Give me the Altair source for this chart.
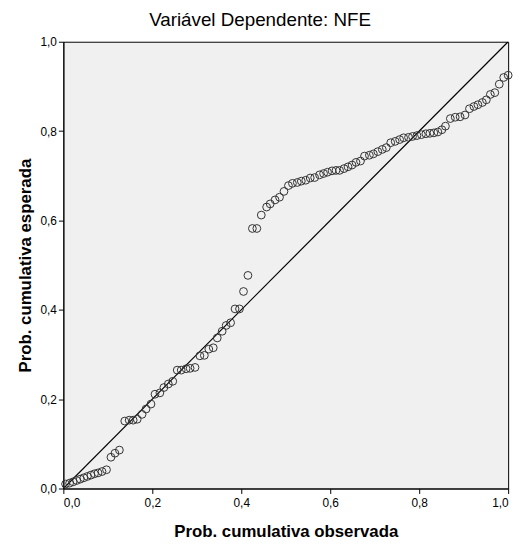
import altair as alt
import pandas as pd

# Observed cumulative probability (x) and expected cumulative probability (y)
observed = [0.005, 0.014, 0.022, 0.030, 0.038, 0.046, 0.054, 0.062, 0.070, 0.078, 0.087, 0.097,
            0.107, 0.116, 0.126,
            0.138, 0.148, 0.157, 0.166, 0.177, 0.186, 0.197, 0.206, 0.217, 0.226, 0.236, 0.246,
            0.256, 0.265, 0.276, 0.285, 0.296, 0.307, 0.317, 0.327, 0.337, 0.346, 0.357, 0.366,
            0.376, 0.386, 0.396, 0.405, 0.415, 0.425, 0.435, 0.445, 0.457, 0.465, 0.476, 0.486,
            0.496, 0.506, 0.515, 0.526, 0.535, 0.545, 0.555, 0.565, 0.576, 0.585, 0.594, 0.604,
            0.613, 0.621, 0.631, 0.640, 0.649, 0.658, 0.668, 0.677, 0.688, 0.697, 0.707, 0.717,
            0.726, 0.736, 0.746, 0.756, 0.765, 0.776, 0.785, 0.795, 0.805, 0.815, 0.824, 0.833,
            0.842, 0.851, 0.859, 0.870, 0.881, 0.892, 0.903, 0.913, 0.923, 0.932, 0.942, 0.951,
            0.960, 0.970, 0.980, 0.990, 1.000]
expected = [0.010, 0.012, 0.015, 0.018, 0.021, 0.024, 0.027, 0.030, 0.033, 0.035, 0.038, 0.042,
            0.070, 0.079, 0.086,
            0.151, 0.153, 0.153, 0.155, 0.166, 0.178, 0.189, 0.211, 0.214, 0.226, 0.234, 0.240,
            0.265, 0.265, 0.268, 0.269, 0.271, 0.297, 0.298, 0.312, 0.315, 0.337, 0.352, 0.365,
            0.371, 0.402, 0.402, 0.441, 0.477, 0.582, 0.582, 0.612, 0.630, 0.637, 0.646, 0.652,
            0.665, 0.678, 0.683, 0.685, 0.688, 0.690, 0.695, 0.696, 0.702, 0.705, 0.708, 0.711,
            0.712, 0.712, 0.716, 0.720, 0.724, 0.730, 0.733, 0.744, 0.746, 0.749, 0.754, 0.759,
            0.763, 0.774, 0.777, 0.781, 0.785, 0.786, 0.788, 0.790, 0.792, 0.794, 0.795, 0.796,
            0.798, 0.803, 0.811, 0.828, 0.831, 0.832, 0.836, 0.850, 0.855, 0.859, 0.864, 0.870,
            0.882, 0.886, 0.905, 0.920, 0.925]

ref_line = [0.0, 1.0]
tick_values = [0.0, 0.2, 0.4, 0.6, 0.8, 1.0]

pts = pd.DataFrame({"obs": observed, "exp": expected})
line_df = pd.DataFrame({"obs": ref_line, "exp": ref_line})

label_expr = "replace(format(datum.value, '.1f'), '.', ',')"

x_enc = alt.X("obs:Q", scale=alt.Scale(domain=[0, 1], nice=False),
              axis=alt.Axis(values=tick_values, labelExpr=label_expr,
                            title="Prob. cumulativa observada"))
y_enc = alt.Y("exp:Q", scale=alt.Scale(domain=[0, 1], nice=False),
              axis=alt.Axis(values=tick_values, labelExpr=label_expr,
                            title="Prob. cumulativa esperada"))

diag = alt.Chart(line_df).mark_line(color="black", strokeWidth=1.2, clip=True).encode(
    x=x_enc, y=y_enc
)

points = alt.Chart(pts).mark_point(
    shape="circle", filled=False, size=62, stroke="#333333", strokeWidth=1, opacity=1
).encode(x=x_enc, y=y_enc)

chart = (
    alt.layer(diag, points)
    .properties(
        width=450,
        height=452,
        title=alt.TitleParams(
            "Variável Dependente: NFE",
            fontSize=19,
            fontWeight="normal",
            font="Liberation Sans",
            color="black",
            anchor="middle",
            dx=-26,
            offset=6,
        ),
        padding={"left": 8, "top": 0, "right": 8, "bottom": 0},
    )
    .configure_view(fill="#F0F0F0", stroke="black", strokeWidth=1)
    .configure_axis(
        grid=False,
        domainColor="black",
        domainWidth=1,
        tickColor="black",
        tickSize=5,
        labelFont="Liberation Sans",
        labelFontSize=12,
        labelColor="black",
        titleFont="Liberation Sans",
        titleFontSize=17,
        titleFontWeight="bold",
        titleColor="black",
        labelPadding=2,
    )
    .configure_axisX(titlePadding=16, labelPadding=4)
    .configure_axisY(titlePadding=6)
)

chart.save("out.html", embed_options={"renderer": "svg", "actions": False})
